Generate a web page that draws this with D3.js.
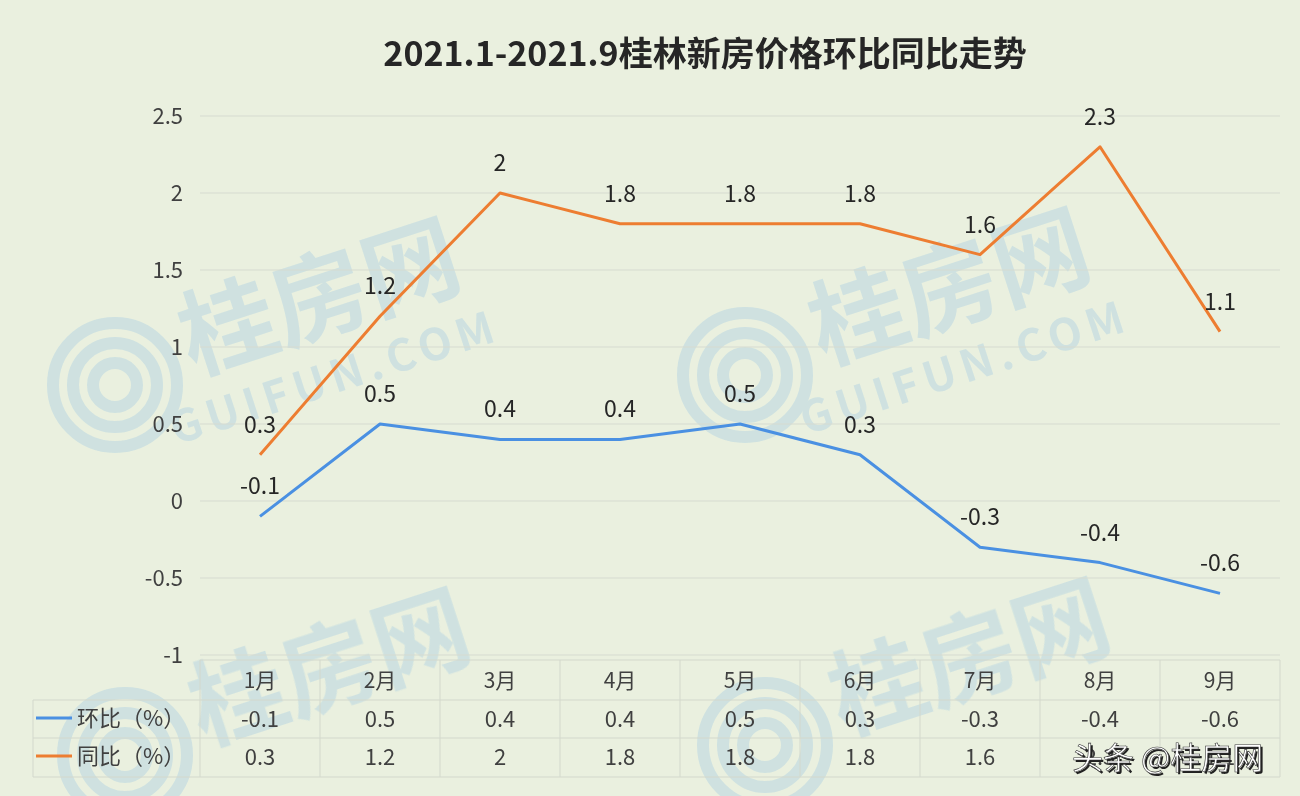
<!DOCTYPE html>
<html><head><meta charset="utf-8">
<script src="https://cdn.jsdelivr.net/npm/d3@7"></script>
<style>
html,body{margin:0;padding:0;background:#eaf0df;}
svg{display:block;}
text{font-family:"Noto Sans CJK SC","Noto Sans",sans-serif;}
</style></head>
<body><svg id="c" width="1300" height="796"></svg>
<script>
const months = ["1月","2月","3月","4月","5月","6月","7月","8月","9月"];
const huanbi = [-0.1,0.5,0.4,0.4,0.5,0.3,-0.3,-0.4,-0.6];
const tongbi = [0.3,1.2,2,1.8,1.8,1.8,1.6,2.3,1.1];
const yTicks = [-1,-0.5,0,0.5,1,1.5,2,2.5];
const seriesNames = ["环比（%）","同比（%）"];
const title = "2021.1-2021.9桂林新房价格环比同比走势";

const svg = d3.select("#c");
svg.append("rect").attr("width",1300).attr("height",796).attr("fill","#eaf0df");

// watermarks
const wmColor = "#bcd8e2";
const wm = svg.append("g").attr("fill",wmColor).attr("opacity",0.6);
const marks = [[330,330,true],[960,320,true],[340,700,false],[980,690,false]];
marks.forEach(([mx,my,withUrl])=>{
  const g = wm.append("g").attr("transform",`translate(${mx},${my}) rotate(-18)`);
  g.append("text").attr("x",0).attr("y",0).attr("text-anchor","middle")
    .attr("font-size",96).attr("font-weight","bold").text("桂房网");
  if (withUrl) g.append("text").attr("x",-10).attr("y",62).attr("text-anchor","middle")
    .attr("font-size",44).attr("font-weight","bold").attr("letter-spacing",6).text("GUIFUN.COM");
  const c = wm.append("g").attr("transform",`translate(${mx-215},${my+55})`);
  [62,42,22].forEach(r=>c.append("circle").attr("r",r).attr("fill","none")
    .attr("stroke",wmColor).attr("stroke-width",12));
});

const x = d3.scaleBand().domain(months).range([200,1280]).padding(0);
const cx = d => x(d) + x.bandwidth()/2;
const y = d3.scaleLinear().domain([-1,2.5]).range([655,116]);

// gridlines
svg.append("g").selectAll("line").data(yTicks).join("line")
  .attr("x1",200).attr("x2",1280).attr("y1",d=>y(d)).attr("y2",d=>y(d))
  .attr("stroke","#d6dbd0").attr("stroke-width",1);

// y axis labels
const yAxis = d3.axisLeft(y).tickValues(yTicks).tickSize(0).tickPadding(0).tickFormat(d=>String(d));
const ya = svg.append("g").attr("transform","translate(183,0)").call(yAxis);
ya.select(".domain").remove();
ya.selectAll("text").attr("font-size",22).attr("fill","#404040")
  .attr("font-family","'Noto Sans CJK SC','Noto Sans',sans-serif");

// title
svg.append("text").attr("x",705).attr("y",66).attr("text-anchor","middle")
  .attr("font-size",34).attr("font-weight","bold").attr("fill","#262626").text(title);

// lines
const line = d3.line().x((d,i)=>cx(months[i])).y(d=>y(d));
svg.append("path").datum(tongbi).attr("d",line).attr("fill","none")
  .attr("stroke","#ed7d31").attr("stroke-width",3).attr("stroke-linejoin","round");
svg.append("path").datum(huanbi).attr("d",line).attr("fill","none")
  .attr("stroke","#4a90e2").attr("stroke-width",3).attr("stroke-linejoin","round");

// data labels
function labels(arr){
  svg.append("g").selectAll("text").data(arr).join("text")
    .attr("x",(d,i)=>cx(months[i])).attr("y",d=>y(d)-22)
    .attr("text-anchor","middle").attr("font-size",23).attr("fill","#262626")
    .text(d=>String(d));
}
labels(tongbi); labels(huanbi);

// data table
const tb = svg.append("g");
const stroke = "#d3d8cc";
tb.append("line").attr("x1",200).attr("x2",1280).attr("y1",660).attr("y2",660).attr("stroke",stroke);
[700,738,777].forEach(v=>tb.append("line").attr("x1",33).attr("x2",1280).attr("y1",v).attr("y2",v).attr("stroke",stroke));
tb.append("line").attr("x1",33).attr("x2",33).attr("y1",700).attr("y2",777).attr("stroke",stroke);
const vx = months.map(m=>x(m)).concat([1280]);
vx.forEach(v=>tb.append("line").attr("x1",v).attr("x2",v).attr("y1",660).attr("y2",777).attr("stroke",stroke));

tb.selectAll("text.h").data(months).join("text").attr("class","h")
  .attr("x",d=>cx(d)).attr("y",688).attr("text-anchor","middle")
  .attr("font-size",21).attr("fill","#404040").text(d=>d);
[[huanbi,727],[tongbi,765]].forEach(([arr,yy])=>{
  tb.append("g").selectAll("text").data(arr).join("text")
    .attr("x",(d,i)=>cx(months[i])).attr("y",yy).attr("text-anchor","middle")
    .attr("font-size",22).attr("fill","#404040").text(d=>String(d));
});
const legendColors = ["#4a90e2","#ed7d31"];
seriesNames.forEach((n,i)=>{
  const yy = [718,756][i];
  tb.append("line").attr("x1",36).attr("x2",72).attr("y1",yy).attr("y2",yy)
    .attr("stroke",legendColors[i]).attr("stroke-width",3);
  tb.append("text").attr("x",77).attr("y",yy+8).attr("font-size",22)
    .attr("fill","#404040").text(n);
});

// source mark
const src = svg.append("g");
src.append("text").attr("x",1072).attr("y",769).attr("font-size",31)
  .attr("fill","#222").attr("transform","translate(2,2)").text("头条 @桂房网");
src.append("text").attr("x",1072).attr("y",769).attr("font-size",31)
  .attr("fill","#ffffff").attr("stroke","#333").attr("stroke-width",0.6).text("头条 @桂房网");
</script></body></html>
